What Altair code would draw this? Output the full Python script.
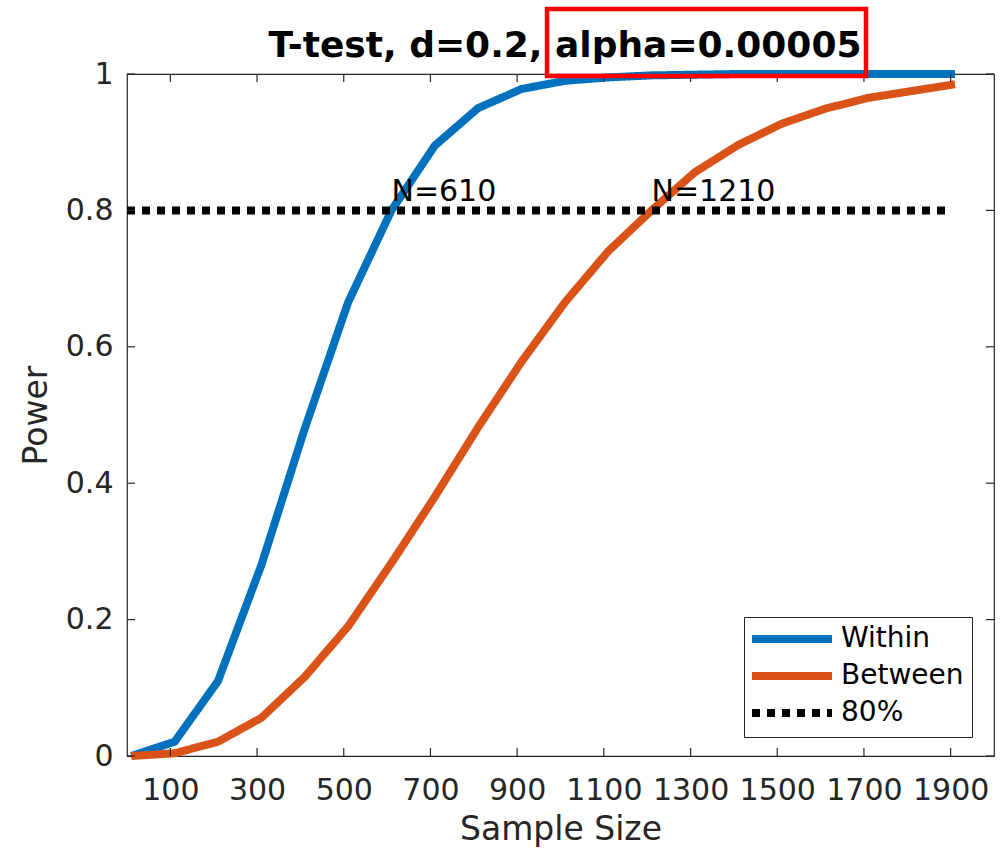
import altair as alt
import pandas as pd

# Power curves for a two-sample t-test (d = 0.2, alpha = 0.00005)
sample_size = [10, 110, 210, 310, 410, 510, 610, 710, 810, 910,
               1010, 1110, 1210, 1310, 1410, 1510, 1610, 1710, 1810, 1910]
power_within = [0.0, 0.021, 0.11, 0.28, 0.48, 0.665, 0.80, 0.895, 0.95, 0.978,
                0.99, 0.995, 0.998, 0.999, 1.0, 1.0, 1.0, 1.0, 1.0, 1.0]
power_between = [0.0, 0.004, 0.021, 0.056, 0.116, 0.19, 0.283, 0.38, 0.482, 0.578,
                 0.665, 0.74, 0.80, 0.856, 0.896, 0.927, 0.949, 0.965, 0.975, 0.985]

# 80% power reference line
target_n = [0, 1900]
target_power = [0.8, 0.8]

series_names = ["Within", "Between", "80%"]
series_colors = ["#0072BD", "#D95319", "#000000"]
series_dashes = [[1, 0], [1, 0], [8, 7]]

# sample sizes where each curve reaches 80% power
crossing_n = [610, 1210]
crossing_power = [0.8, 0.8]
crossing_labels = ["N=610", "N=1210"]

x_ticks = [100, 300, 500, 700, 900, 1100, 1300, 1500, 1700, 1900]
y_ticks = [0, 0.2, 0.4, 0.6, 0.8, 1.0]

title_text = "T-test, d=0.2, alpha=0.00005"

FONT = "DejaVu Sans"
W, H = 867, 682

rows = []
for n, p in zip(sample_size, power_within):
    rows.append({"n": n, "power": p, "series": "Within"})
for n, p in zip(sample_size, power_between):
    rows.append({"n": n, "power": p, "series": "Between"})
for n, p in zip(target_n, target_power):
    rows.append({"n": n, "power": p, "series": "80%"})
curves = pd.DataFrame(rows)

labels_df = pd.DataFrame({"n": crossing_n, "power": crossing_power, "label": crossing_labels})
xt_df = pd.DataFrame({"n": x_ticks})
yt_df = pd.DataFrame({"power": y_ticks})

x_scale = alt.Scale(domain=[0, 2000], nice=False, zero=False)
y_scale = alt.Scale(domain=[0, 1], nice=False, zero=False)
x_axis = alt.Axis(values=x_ticks, title="Sample Size", format="d")
y_axis = alt.Axis(values=y_ticks, title="Power", format=".1~f")


def xq():
    return alt.X("n:Q", scale=x_scale, axis=x_axis)


def yq():
    return alt.Y("power:Q", scale=y_scale, axis=y_axis)


color_enc = alt.Color("series:N",
                      scale=alt.Scale(domain=series_names, range=series_colors),
                      legend=alt.Legend(title=None))
dash_enc = alt.StrokeDash("series:N",
                          scale=alt.Scale(domain=series_names, range=series_dashes),
                          legend=alt.Legend(title=None))


def curve_layer(name):
    return (
        alt.Chart(curves)
        .transform_filter(alt.datum.series == name)
        .mark_line(strokeWidth=8, strokeCap="butt", strokeJoin="round")
        .encode(x=xq(), y=yq(), color=color_enc, strokeDash=dash_enc)
    )


within = curve_layer("Within")
between = curve_layer("Between")
target = curve_layer("80%")

crossing_text = (
    alt.Chart(labels_df)
    .mark_text(align="left", baseline="alphabetic", dy=-9, fontSize=30,
               font=FONT, color="#000000")
    .encode(x=xq(), y=yq(), text="label:N")
)

# inward tick marks on all four sides of the box
tick_style = dict(color="#262626", strokeWidth=1.2)
x_ticks_bottom = alt.Chart(xt_df).mark_rule(**tick_style).encode(
    x=xq(), y=alt.value(H), y2=alt.value(H - 8))
x_ticks_top = alt.Chart(xt_df).mark_rule(**tick_style).encode(
    x=xq(), y=alt.value(0), y2=alt.value(8))
y_ticks_left = alt.Chart(yt_df).mark_rule(**tick_style).encode(
    y=yq(), x=alt.value(0), x2=alt.value(8))
y_ticks_right = alt.Chart(yt_df).mark_rule(**tick_style).encode(
    y=yq(), x=alt.value(W), x2=alt.value(W - 8))

one_row = pd.DataFrame({"t": [title_text]})

# plot title, drawn above the box
title = alt.Chart(one_row).mark_text(
    font=FONT, fontSize=36, fontWeight="bold", color="#000000",
    align="center", baseline="alphabetic"
).encode(x=alt.value(438), y=alt.value(-17), text="t:N")

# highlight box around the alpha value in the title
highlight = alt.Chart(one_row).mark_rect(
    filled=False, stroke="#FF0000", strokeWidth=4.5
).encode(x=alt.value(420), x2=alt.value(739), y=alt.value(-65), y2=alt.value(2))

chart = (
    alt.layer(within, between, target, crossing_text,
              x_ticks_bottom, x_ticks_top, y_ticks_left, y_ticks_right,
              title, highlight)
    .properties(
        width=W, height=H,
        autosize=alt.AutoSizeParams(type="none"),
        padding={"left": 127, "top": 74, "right": 1000 - 127 - W, "bottom": 849 - 74 - H},
    )
    .configure_view(stroke="#262626", strokeWidth=1.2)
    .configure_axis(grid=False, domain=False, ticks=False, tickSize=0,
                    labelFont=FONT, labelFontSize=30, labelColor="#262626",
                    titleFont=FONT, titleFontSize=33, titleFontWeight="normal",
                    titleColor="#262626")
    .configure_axisX(labelPadding=19, titlePadding=8)
    .configure_axisY(labelPadding=14, titlePadding=12)
    .configure_legend(orient="none", legendX=617, legendY=543,
                      fillColor="#FFFFFF", strokeColor="#262626", strokeWidth=1,
                      padding=8, symbolType="M-4,0H4", symbolSize=400,
                      symbolStrokeWidth=8, symbolOffset=26, labelOffset=35,
                      labelFont=FONT, labelFontSize=28, labelColor="#000000",
                      rowPadding=5, labelLimit=400)
)

chart.save("out.html", embed_options={"renderer": "svg", "actions": False})
